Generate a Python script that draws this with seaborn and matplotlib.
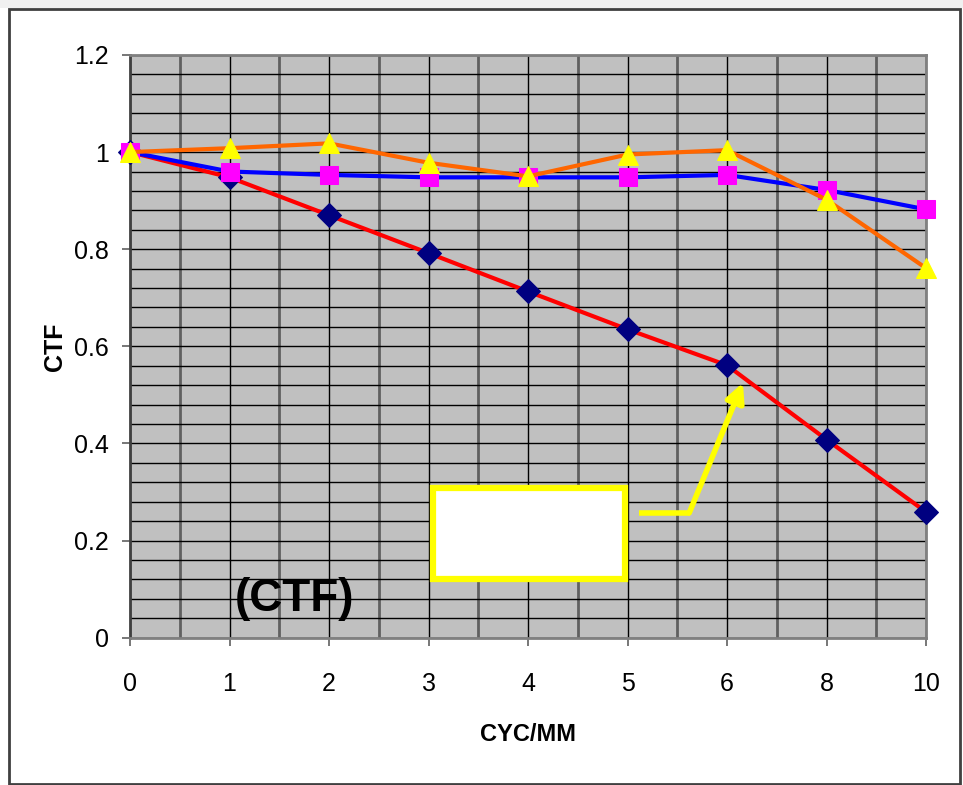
import matplotlib
matplotlib.use('Agg')
import matplotlib.pyplot as plt
import matplotlib.patches as patches
from matplotlib.ticker import FixedLocator, MultipleLocator, FormatStrFormatter
import seaborn as sns

# 공간 주파수 (cyc/mm) 와 CTF 값
cyc = ['0', '1', '2', '3', '4', '5', '6', '8', '10']
ctf_diamond = [1.0, 0.948, 0.870, 0.792, 0.713, 0.635, 0.561, 0.408, 0.259]
ctf_square = [1.0, 0.960, 0.953, 0.948, 0.948, 0.948, 0.953, 0.922, 0.882]
ctf_triangle = [1.0, 1.008, 1.018, 0.978, 0.950, 0.995, 1.004, 0.902, 0.761]

sns.set_style('white')
plt.rcParams['font.family'] = ['Liberation Sans', 'DejaVu Sans']
plt.rcParams['text.color'] = 'black'
plt.rcParams['axes.labelcolor'] = 'black'
plt.rcParams['xtick.color'] = 'black'
plt.rcParams['ytick.color'] = 'black'

fig = plt.figure(figsize=(9.63, 7.85), dpi=100)
fig.patch.set_facecolor('white')
ax = fig.add_axes([0.135, 0.1876, 0.8266, 0.7424])
ax.set_facecolor('#c0c0c0')

# 시리즈 그리기 (엑셀 순서대로)
sns.lineplot(x=cyc, y=ctf_diamond, ax=ax, color='#ff0000', lw=3, marker='D',
             markersize=12, markerfacecolor='#000080', markeredgecolor='#000080',
             sort=False, zorder=3, clip_on=False)
sns.lineplot(x=cyc, y=ctf_square, ax=ax, color='#0000ff', lw=3, marker='s',
             markersize=13, markerfacecolor='#ff00ff', markeredgecolor='#ff00ff',
             sort=False, zorder=4, clip_on=False)
sns.lineplot(x=cyc, y=ctf_triangle, ax=ax, color='#ff6600', lw=3, marker='^',
             markersize=15, markerfacecolor='#ffff00', markeredgecolor='#ffff00',
             sort=False, zorder=5, clip_on=False)

ax.set_xlim(0, len(cyc) - 1)
ax.set_ylim(0, 1.2)

# 축 눈금
ax.yaxis.set_major_locator(MultipleLocator(0.2))
ax.yaxis.set_minor_locator(MultipleLocator(0.04))
ax.yaxis.set_major_formatter(FormatStrFormatter('%g'))
ax.xaxis.set_major_locator(FixedLocator(range(len(cyc))))
ax.xaxis.set_minor_locator(FixedLocator([i + 0.5 for i in range(len(cyc) - 1)]))
ax.set_xticklabels(cyc)

ax.grid(which='major', axis='both', color='black', lw=1, zorder=0)
ax.grid(which='minor', axis='y', color='black', lw=1, zorder=0)
ax.grid(which='minor', axis='x', color='#606060', lw=2, zorder=0)
ax.set_axisbelow(True)

ax.tick_params(axis='both', which='major', direction='out', length=6, width=1.2,
               color='#606060', labelsize=18, left=True, bottom=True)
ax.tick_params(axis='x', which='major', pad=19)
ax.tick_params(axis='y', which='major', pad=9)
ax.tick_params(axis='both', which='minor', length=0)

for s in ax.spines.values():
    s.set_color('#808080')
    s.set_linewidth(2)
ax.spines['left'].set_color('#404040')

ax.set_xlabel('CYC/MM', fontsize=17, fontweight='bold', labelpad=19)
ax.set_ylabel('CTF', fontsize=18, fontweight='bold', labelpad=5)

# 주석 상자와 화살표
ax.add_patch(patches.Rectangle((3.045, 0.121), 1.93, 0.187, facecolor='white',
                               edgecolor='#ffff00', lw=4.5, zorder=6))
ax.plot([5.12, 5.63], [0.257, 0.257], color='#ffff00', lw=4, zorder=6,
        solid_capstyle='butt')
ax.annotate('', xy=(6.16, 0.525), xytext=(5.62, 0.257),
            arrowprops=dict(arrowstyle='-|>', color='#ffff00', lw=4,
                            mutation_scale=28, shrinkA=0, shrinkB=0), zorder=6)

ax.text(1.65, 0.08, '(CTF)', fontsize=33, fontweight='bold', ha='center',
        va='center', color='black', zorder=7)

# 바깥 테두리
fig.patches.append(patches.Rectangle((0, 777 / 785), 1, 8 / 785,
                                     transform=fig.transFigure, facecolor='#f0f0f0',
                                     edgecolor='none'))
fig.patches.append(patches.Rectangle((9 / 963, 1 / 785), 951 / 963, 775 / 785,
                                     transform=fig.transFigure, fill=False,
                                     edgecolor='#404040', lw=2))

fig.savefig('out.png', dpi=100)
